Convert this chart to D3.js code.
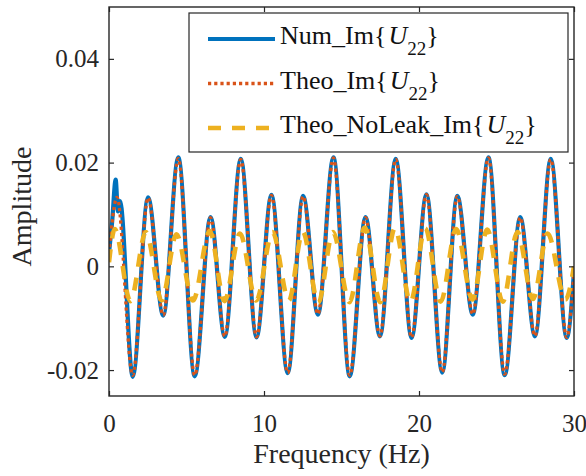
<!DOCTYPE html>
<html>
<head>
<meta charset="utf-8">
<script src="https://cdn.jsdelivr.net/npm/d3@7"></script>
<style>
  body { margin: 0; background: #fff; }
  svg { display: block; font-family: "Liberation Serif", "Times New Roman", Times, serif; }
</style>
</head>
<body>
<div id="chart"></div>
<script>
// values (frequency in Hz, amplitude)
const numFreq = [0, 0.2, 0.43, 0.58, 0.71, 1.53, 2.52, 3.5, 4.47, 5.53, 6.55, 7.47, 8.5, 9.52, 10.48, 11.53, 12.52, 13.48, 14.48, 15.53, 16.55, 17.48, 18.5, 19.52, 20.48, 21.5, 22.47, 23.47, 24.48, 25.53, 26.53, 27.48, 28.5, 29.53, 30];
const numAmp = [0.0025, 0.0085, 0.0167, 0.0106, 0.0126, -0.0213, 0.0133, -0.0095, 0.0210, -0.0212, 0.0095, -0.0136, 0.0207, -0.0137, 0.0138, -0.0206, 0.0136, -0.0093, 0.0210, -0.0212, 0.0095, -0.0135, 0.0207, -0.0138, 0.0139, -0.0205, 0.0136, -0.0093, 0.0210, -0.0210, 0.0095, -0.0135, 0.0207, -0.0138, -0.0010];

const theoFreq = [0, 0.52, 1.53, 2.52, 3.5, 4.47, 5.53, 6.55, 7.47, 8.5, 9.52, 10.48, 11.53, 12.52, 13.48, 14.48, 15.53, 16.55, 17.48, 18.5, 19.52, 20.48, 21.5, 22.47, 23.47, 24.48, 25.53, 26.53, 27.48, 28.5, 29.53, 30];
const theoAmp = [0.0025, 0.0133, -0.0210, 0.0132, -0.0094, 0.0208, -0.0210, 0.0094, -0.0135, 0.0206, -0.0136, 0.0137, -0.0205, 0.0135, -0.0092, 0.0209, -0.0210, 0.0094, -0.0134, 0.0206, -0.0137, 0.0138, -0.0204, 0.0135, -0.0092, 0.0209, -0.0208, 0.0094, -0.0134, 0.0206, -0.0137, -0.0010];

const noLeakFreq = [0, 0.37, 1.38, 2.38, 3.4, 4.35, 5.42, 6.5, 7.45, 8.45, 9.5, 10.55, 11.6, 12.5, 13.5, 14.45, 15.52, 16.5, 17.5, 18.45, 19.45, 20.4, 21.4, 22.4, 23.45, 24.4, 25.4, 26.35, 27.35, 28.3, 29.45, 30];
const noLeakAmp = [0.0008, 0.0072, -0.0067, 0.0066, -0.0066, 0.0062, -0.0066, 0.0068, -0.0067, 0.0063, -0.0066, 0.0066, -0.0066, 0.0067, -0.0070, 0.0066, -0.0069, 0.0075, -0.0069, 0.0074, -0.0069, 0.0073, -0.0068, 0.0072, -0.0064, 0.0071, -0.0068, 0.0066, -0.0063, 0.0063, -0.0064, 0.0000];

const xTicks = [0, 10, 20, 30];
const yTicks = [-0.02, 0, 0.02, 0.04];
const yTickLabels = ["-0.02", "0", "0.02", "0.04"];

const width = 586, height = 476;
const plotLeft = 109, plotRight = 574, plotTop = 7, plotBottom = 396;
const serif = "'Liberation Serif', 'Times New Roman', Times, serif";

const svg = d3.select("#chart").append("svg")
  .attr("width", width)
  .attr("height", height);

const x = d3.scaleLinear().domain([0, 30]).range([plotLeft, plotRight]);
const y = d3.scaleLinear().domain([-0.025, 0.05]).range([plotBottom, plotTop]);

svg.append("defs").append("clipPath").attr("id", "plotArea")
  .append("rect")
  .attr("x", plotLeft).attr("y", plotTop)
  .attr("width", plotRight - plotLeft).attr("height", plotBottom - plotTop);

const line = d3.line()
  .x((d) => x(d[0]))
  .y((d) => y(d[1]))
  .curve(d3.curveMonotoneX);

const series = [
  { name: "Num", f: numFreq, a: numAmp, color: "#0072BD", width: 4.2, dash: null },
  { name: "Theo", f: theoFreq, a: theoAmp, color: "#D95319", width: 3.3, dash: "3.2 3" },
  { name: "Theo_NoLeak", f: noLeakFreq, a: noLeakAmp, color: "#EDB120", width: 4.6, dash: "13 11" },
];

const plot = svg.append("g").attr("clip-path", "url(#plotArea)");
series.forEach((s) => {
  plot.append("path")
    .datum(d3.zip(s.f, s.a))
    .attr("d", line)
    .attr("fill", "none")
    .attr("stroke", s.color)
    .attr("stroke-width", s.width)
    .attr("stroke-dasharray", s.dash);
});

// axes with inward ticks on all four sides
const axisColor = "#262626";
const tickLen = 5;

const xBottom = svg.append("g").attr("transform", `translate(0,${plotBottom})`)
  .call(d3.axisBottom(x).tickValues(xTicks).tickSizeInner(-tickLen).tickSizeOuter(0).tickPadding(18));
const xTop = svg.append("g").attr("transform", `translate(0,${plotTop})`)
  .call(d3.axisTop(x).tickValues(xTicks).tickSizeInner(-tickLen).tickSizeOuter(0).tickFormat(""));
const yLeft = svg.append("g").attr("transform", `translate(${plotLeft},0)`)
  .call(d3.axisLeft(y).tickValues(yTicks).tickSizeInner(-tickLen).tickSizeOuter(0).tickPadding(10)
    .tickFormat((d, i) => yTickLabels[i]));
const yRight = svg.append("g").attr("transform", `translate(${plotRight},0)`)
  .call(d3.axisRight(y).tickValues(yTicks).tickSizeInner(-tickLen).tickSizeOuter(0).tickFormat(""));

[xBottom, xTop, yLeft, yRight].forEach((g) => {
  g.attr("font-family", null);
  g.select(".domain").remove();
  g.selectAll("line").attr("stroke", axisColor).attr("stroke-width", 1.2);
  g.selectAll("text")
    .attr("fill", "#262626")
    .style("font-family", serif)
    .style("font-size", "25px");
});

svg.append("rect")
  .attr("x", plotLeft).attr("y", plotTop)
  .attr("width", plotRight - plotLeft).attr("height", plotBottom - plotTop)
  .attr("fill", "none")
  .attr("stroke", axisColor)
  .attr("stroke-width", 1.4);

svg.append("text")
  .attr("x", (plotLeft + plotRight) / 2)
  .attr("y", 463)
  .attr("text-anchor", "middle")
  .attr("fill", "#262626")
  .style("font-family", serif)
  .style("font-size", "28px")
  .text("Frequency (Hz)");

svg.append("text")
  .attr("transform", `translate(31,${(plotTop + plotBottom) / 2 + 5}) rotate(-90)`)
  .attr("text-anchor", "middle")
  .attr("fill", "#262626")
  .style("font-family", serif)
  .style("font-size", "28px")
  .text("Amplitude");

// legend
const legend = svg.append("g");
legend.append("rect")
  .attr("x", 189).attr("y", 13)
  .attr("width", 379).attr("height", 139)
  .attr("fill", "#fff")
  .attr("stroke", axisColor)
  .attr("stroke-width", 1.2);

series.forEach((s, i) => {
  const rowY = 39 + i * 44.5;
  legend.append("line")
    .attr("x1", 208).attr("x2", 275)
    .attr("y1", rowY).attr("y2", rowY)
    .attr("stroke", s.color)
    .attr("stroke-width", s.width)
    .attr("stroke-dasharray", s.dash);
  const t = legend.append("text")
    .attr("x", 280).attr("y", rowY + 5)
    .attr("fill", "#111")
    .style("font-family", serif)
    .style("font-size", "26px");
  t.append("tspan").text(s.name + "_Im{");
  t.append("tspan").attr("dx", 2).style("font-style", "italic").text("U");
  t.append("tspan").attr("dy", 11).style("font-size", "19px").text("22");
  t.append("tspan").attr("dy", -11).text("}");
});
</script>
</body>
</html>
